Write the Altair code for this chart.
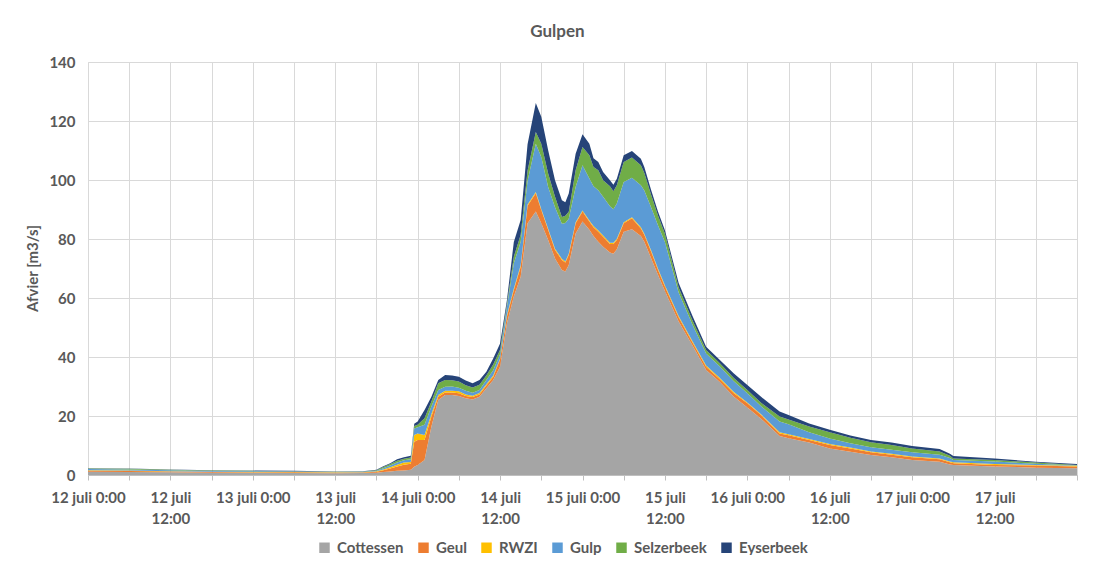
import altair as alt
import pandas as pd

# hours since 12 juli 0:00
hours = [0, 6, 12, 18, 24, 30, 36, 40,
         42, 43, 44, 45, 46, 47,
         47.5, 48, 49, 50, 51, 52, 53, 54, 55, 56, 57, 58, 59, 60,
         61, 62, 63, 64, 65.2, 66, 67, 68, 69, 69.5,
         70, 71, 72, 73, 73.6, 74.3, 75, 76, 76.5, 77,
         78, 79.2, 80.5, 81, 82, 83, 84, 86, 88, 90,
         92, 94, 96, 98, 100.7, 102, 105, 108, 111, 114,
         117, 120, 124, 125.5, 126, 132, 138, 144]

cottessen = [1.1, 1.05, 0.9, 0.8, 0.75, 0.7, 0.6, 0.65,
             0.8, 1.0, 1.2, 1.4, 1.5, 1.8,
             2.8, 3.4, 5.1, 16.4, 25.4, 27.1, 27.1, 26.8, 26.0, 25.6, 26.5, 29.4, 32.2, 36.7,
             51.4, 60.5, 67.2, 85.3, 89.3, 85.3, 79.7, 73.4, 69.5, 69.0,
             71.2, 81.9, 85.9, 83.1, 81.0, 79.1, 77.4, 75.4, 75.0, 76.5,
             82.5, 83.3, 81.0, 79.1, 73.4, 67.8, 62.4, 52.0, 44.0, 35.6,
             31.5, 26.6, 22.9, 19.1, 13.2, 12.5, 11.0, 9.0, 7.9, 6.8,
             6.0, 5.1, 4.5, 3.6, 3.4, 2.9, 2.5, 2.3]

geul = [0.3, 0.3, 0.25, 0.2, 0.2, 0.2, 0.2, 0.2,
        0.3, 0.6, 1.0, 1.5, 2.0, 2.0,
        8.5, 8.5, 6.8, 3.4, 1.1, 0.9, 0.9, 0.9, 0.8, 0.8, 0.8, 0.9, 1.0, 2.5,
        2.3, 2.2, 3.4, 6.0, 6.2, 4.5, 3.4, 2.9, 3.4, 3.0,
        3.4, 3.4, 3.4, 2.8, 3.0, 3.4, 3.4, 2.9, 3.3, 3.2,
        2.8, 3.7, 2.6, 2.3, 2.3, 1.7, 1.5, 1.5, 1.0, 1.1,
        1.0, 1.2, 1.4, 1.2, 0.9, 1.0, 0.9, 1.2, 1.1, 0.9,
        0.9, 0.9, 0.8, 0.7, 0.6, 0.5, 0.7, 0.6]

rwzi = [0.2, 0.2, 0.15, 0.1, 0.1, 0.1, 0.1, 0.1,
        0.15, 0.3, 0.4, 0.6, 0.7, 0.6,
        2.3, 2.2, 1.7, 0.9, 0.6, 0.6, 0.6, 0.7, 0.5, 0.5, 0.5, 0.5, 0.5, 0.3,
        0.5, 0.5, 0.5, 0.4, 0.4, 0.4, 0.4, 0.4, 0.4, 0.4,
        0.4, 0.4, 0.4, 0.4, 0.4, 0.4, 0.4, 0.4, 0.4, 0.4,
        0.4, 0.4, 0.4, 0.4, 0.4, 0.4, 0.4, 0.4, 0.4, 0.4,
        0.4, 0.4, 0.3, 0.3, 0.4, 0.3, 0.3, 0.3, 0.3, 0.3,
        0.3, 0.3, 0.3, 0.3, 0.3, 0.3, 0.2, 0.2]

gulp = [0.4, 0.35, 0.3, 0.25, 0.2, 0.15, 0.1, 0.15,
        0.2, 0.4, 0.6, 0.7, 0.8, 0.9,
        2.2, 2.1, 3.4, 2.5, 1.7, 1.3, 1.4, 1.2, 1.3, 1.0, 1.0, 1.4, 1.8, 1.5,
        2.8, 8.6, 8.0, 8.0, 16.4, 17.6, 14.1, 14.1, 11.9, 13.0,
        11.9, 11.9, 15.3, 14.2, 13.5, 13.6, 13.1, 12.4, 11.4, 11.9,
        13.6, 13.4, 14.2, 14.6, 14.6, 14.7, 14.7, 8.0, 5.6, 4.1,
        3.9, 3.7, 3.1, 2.7, 3.6, 3.4, 2.3, 1.9, 1.5, 1.4,
        1.4, 1.4, 1.3, 1.2, 0.8, 0.9, 0.4, 0.1]

selzerbeek = [0.2, 0.2, 0.2, 0.15, 0.15, 0.15, 0.1, 0.1,
              0.2, 0.4, 0.5, 0.6, 0.5, 0.6,
              0.8, 0.8, 2.2, 1.7, 2.3, 2.3, 2.1, 2.1, 1.8, 1.8, 1.8, 1.5, 2.0, 1.5,
              1.0, 2.2, 2.3, 3.4, 4.0, 4.5, 4.6, 3.5, 2.3, 2.5,
              2.3, 5.7, 6.2, 7.9, 6.5, 6.8, 5.6, 6.8, 6.1, 6.2,
              6.8, 6.8, 6.8, 6.0, 4.2, 3.3, 2.8, 1.7, 1.5, 1.2,
              1.1, 1.1, 1.1, 1.2, 1.7, 1.6, 1.9, 2.1, 1.8, 1.7,
              1.6, 1.3, 1.1, 0.7, 0.5, 0.5, 0.4, 0.2]

eyserbeek = [0.1, 0.1, 0.1, 0.1, 0.1, 0.1, 0.1, 0.1,
             0.15, 0.3, 0.3, 0.5, 0.5, 0.6,
             0.8, 1.1, 2.8, 1.6, 1.1, 1.7, 1.6, 1.6, 1.6, 1.4, 1.6, 1.3, 2.0, 2.1,
             1.3, 5.0, 5.0, 9.0, 9.8, 9.1, 7.9, 5.6, 5.6, 4.6,
             6.2, 5.6, 4.3, 3.9, 3.0, 2.8, 2.8, 2.0, 2.2, 2.2,
             2.3, 2.2, 2.2, 2.0, 1.6, 1.3, 1.2, 1.5, 1.5, 1.1,
             1.1, 1.5, 1.7, 2.0, 1.7, 1.5, 1.1, 0.8, 0.8, 0.8,
             0.8, 0.8, 0.8, 0.7, 0.8, 0.5, 0.3, 0.3]

names = ["Cottessen", "Geul", "RWZI", "Gulp", "Selzerbeek", "Eyserbeek"]
colors = ["#A5A5A5", "#ED7D31", "#FFC000", "#5B9BD5", "#70AD47", "#264478"]
series = [cottessen, geul, rwzi, gulp, selzerbeek, eyserbeek]

rows = []
for i, (n, vals) in enumerate(zip(names, series)):
    for h, v in zip(hours, vals):
        rows.append({"h": h, "series": n, "value": v, "idx": i})
df = pd.DataFrame(rows)

label_expr = (
    "datum.value % 12 == 0 && datum.value < 144 ? "
    "(datum.value % 24 == 0 ? (12 + floor(datum.value / 24)) + ' juli 0:00' "
    ": [(12 + floor(datum.value / 24)) + ' juli', '12:00']) : ''"
)

FONT = "Lato"
GREY = "#595959"

chart = alt.Chart(df).mark_area(interpolate="linear").encode(
    x=alt.X(
        "h:Q",
        scale=alt.Scale(domain=[0, 144], nice=False, zero=False),
        axis=alt.Axis(
            values=list(range(0, 145, 6)),
            labelExpr=label_expr,
            title=None,
            grid=True,
            gridColor="#D9D9D9",
            domain=True,
            domainColor="#BFBFBF",
            ticks=True,
            tickColor="#BFBFBF",
            tickSize=5,
            labelPadding=10,
            labelFont=FONT,
            labelFontSize=15,
            labelFontWeight="bold",
            labelColor=GREY,
            labelOverlap=False,
            labelBound=False,
            labelFlush=False,
            labelLineHeight=21,
            labelBaseline="top",
        ),
    ),
    y=alt.Y(
        "value:Q",
        stack="zero",
        scale=alt.Scale(domain=[0, 140], nice=False),
        axis=alt.Axis(
            values=list(range(0, 141, 20)),
            title="Afvier [m3/s]",
            titleFont=FONT,
            titleFontSize=15,
            titleFontWeight="bold",
            titleColor=GREY,
            titleX=-56,
            titleY=206,
            titleAngle=-90,
            titleAlign="center",
            titleBaseline="middle",
            grid=True,
            gridColor="#D9D9D9",
            domain=False,
            ticks=False,
            labelPadding=13,
            labelFont=FONT,
            labelFontSize=15,
            labelFontWeight="bold",
            labelColor=GREY,
        ),
    ),
    color=alt.Color(
        "series:N",
        scale=alt.Scale(domain=names, range=colors),
        legend=alt.Legend(
            title=None,
            orient="none",
            legendX=229,
            legendY=478,
            direction="horizontal",
            symbolType="square",
            symbolSize=110,
            symbolStrokeWidth=0,
            labelFont=FONT,
            labelFontSize=15,
            labelFontWeight="bold",
            labelColor=GREY,
            columnPadding=12,
            labelOffset=5,
        ),
    ),
    order=alt.Order("idx:Q", sort="ascending"),
).properties(
    width=989,
    height=413,
    title=alt.TitleParams(
        "Gulpen", font=FONT, fontSize=17, fontWeight="bold", color=GREY,
        anchor="middle", offset=14, dx=-25,
    ),
    autosize=alt.AutoSizeParams(type="none"),
    padding={"left": 80, "top": 54, "right": 14, "bottom": 80},
).configure_view(stroke=None).configure(background="white")

chart.save("out.html", embed_options={"renderer": "svg", "actions": False})
